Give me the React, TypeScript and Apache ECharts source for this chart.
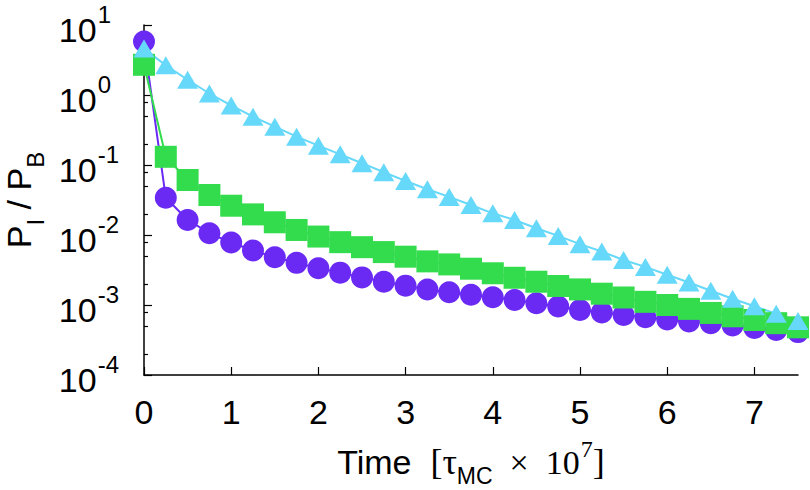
import React, { useEffect, useRef } from "react";
import * as echarts from "echarts";

// Time in units of tau_MC x 10^7
const times = [
  0, 0.25, 0.5, 0.75, 1, 1.25, 1.5, 1.75, 2, 2.25, 2.5, 2.75, 3, 3.25, 3.5, 3.75,
  4, 4.25, 4.5, 4.75, 5, 5.25, 5.5, 5.75, 6, 6.25, 6.5, 6.75, 7, 7.25, 7.5,
];

// purple circles
const ratioCircles = [
  5.8, 0.034, 0.0164, 0.0106, 0.0078, 0.006, 0.0048, 0.004, 0.00334, 0.0029, 0.00248,
  0.00215, 0.00189, 0.00166, 0.00152, 0.0014, 0.00129, 0.00118, 0.00106, 0.00095,
  0.00085, 0.00078, 0.00072, 0.00067, 0.00062, 0.00058, 0.00055, 0.00051, 0.00047,
  0.00044, 0.00041,
];

// green squares
const ratioSquares = [
  2.7, 0.131, 0.061, 0.0373, 0.0262, 0.0197, 0.0152, 0.0118, 0.0095, 0.0079, 0.0067,
  0.0057, 0.0049, 0.0042, 0.0038, 0.0033, 0.00284, 0.00245, 0.00215, 0.00187, 0.00167,
  0.00145, 0.00128, 0.00111, 0.001, 0.00088, 0.00077, 0.00069, 0.00061, 0.00055, 0.00048,
];

// cyan triangles
const ratioTriangles = [
  4.6, 2.65, 1.65, 1.05, 0.71, 0.49, 0.353, 0.254, 0.189, 0.142, 0.106, 0.079, 0.059,
  0.045, 0.035, 0.0268, 0.0204, 0.0164, 0.0125, 0.0097, 0.0074, 0.0058, 0.0044, 0.0035,
  0.0027, 0.0021, 0.0016, 0.00123, 0.00096, 0.00075, 0.00059,
];

const xTickValues = [0, 1, 2, 3, 4, 5, 6, 7];
const yMinorTickValues = [
  2e-4, 5e-4, 8e-4, 2e-3, 5e-3, 8e-3, 0.02, 0.05, 0.08, 0.2, 0.5, 0.8, 2, 5, 8,
];

const PURPLE = "#6a2af4";
const GREEN = "#33dc4c";
const CYAN = "#66d8fa";
const SANS = "'Liberation Sans', Arial, Helvetica, sans-serif";
const SERIF = "'Liberation Serif', 'Times New Roman', serif";

export default function App() {
  const ref = useRef<HTMLDivElement>(null);

  useEffect(() => {
    if (!ref.current) return;
    const chart = echarts.init(ref.current, undefined, { renderer: "svg" });
    const mk = (vals: number[]) => times.map((t, i) => [t, vals[i]]);
    const axisColor = "#000";

    const option: any = {
      animation: false,
      backgroundColor: "#fff",
      grid: {
        left: 144,
        right: 12,
        top: 25,
        bottom: 115,
        containLabel: false,
        outerBoundsMode: "none",
      },
      xAxis: {
        type: "value",
        min: 0,
        max: 7.5,
        interval: 1,
        name: "{t|Time  }{br|[τ}{sub|MC}{x|  ×  10}{sup|7}{br|]}",
        nameLocation: "middle",
        nameGap: 62,
        nameMoveOverlap: false,
        nameTextStyle: {
          color: "#000",
          rich: {
            t: { fontFamily: SANS, fontSize: 34, color: "#000" },
            br: { fontFamily: SERIF, fontSize: 36, color: "#000" },
            sub: { fontFamily: SANS, fontSize: 23, color: "#000", padding: [27, 0, 0, 0] },
            x: { fontFamily: SERIF, fontSize: 34, color: "#000" },
            sup: { fontFamily: SERIF, fontSize: 24, color: "#000", padding: [0, 0, 26, 1] },
          },
        },
        axisLine: { show: true, onZero: false, lineStyle: { color: axisColor, width: 1.5 } },
        axisTick: {
          show: true,
          inside: true,
          length: 8,
          customValues: xTickValues,
          lineStyle: { color: axisColor, width: 1.2 },
        },
        axisLabel: {
          customValues: xTickValues,
          fontFamily: SANS,
          fontSize: 34,
          color: "#000",
          margin: 20,
        },
        splitLine: { show: false },
      },
      yAxis: [
        {
          type: "log",
          logBase: 10,
          min: 1e-4,
          max: 10,
          position: "left",
          name: "{p|P}{s|I}{m| / }{p|P}{s|B}",
          nameLocation: "middle",
          nameRotate: 90,
          nameGap: 97,
          nameMoveOverlap: false,
          nameTextStyle: {
            color: "#000",
            rich: {
              p: { fontFamily: SANS, fontSize: 34, color: "#000", verticalAlign: "top" },
              m: { fontFamily: SANS, fontSize: 34, color: "#000", verticalAlign: "top" },
              s: {
                fontFamily: SANS,
                fontSize: 24,
                color: "#000",
                verticalAlign: "top",
                padding: [21, 0, 0, 0],
              },
            },
          },
          axisLine: { show: true, onZero: false, lineStyle: { color: axisColor, width: 1.5 } },
          axisTick: { show: true, inside: true, length: 8, lineStyle: { color: axisColor, width: 1.2 } },
          minorTick: { show: false },
          axisLabel: {
            margin: 19,
            formatter: (v: number) => {
              const e = Math.round(Math.log10(v));
              return e < 0 ? `{b|10}{sn|${e}}` : `{b|10}{sp|${e}}`;
            },
            rich: {
              b: { fontFamily: SANS, fontSize: 34, color: "#000", padding: [10, 0, 0, 0] },
              sn: {
                fontFamily: SANS,
                fontSize: 24,
                color: "#000",
                padding: [0, 6, 22, 1],
              },
              sp: {
                fontFamily: SANS,
                fontSize: 24,
                color: "#000",
                padding: [0, 14, 22, 1],
              },
            },
          },
          splitLine: { show: false },
        },
        {
          type: "value",
          min: -4,
          max: 1,
          position: "left",
          axisLine: { show: false },
          axisLabel: { show: false },
          splitLine: { show: false },
          axisTick: {
            show: true,
            inside: true,
            length: 4,
            customValues: yMinorTickValues.map((v) => Math.log10(v)),
            lineStyle: { color: axisColor, width: 1.2 },
          },
        },
      ],
      series: [
        {
          type: "line",
          data: mk(ratioCircles),
          yAxisIndex: 0,
          symbol: "circle",
          symbolSize: 22,
          showAllSymbol: true,
          clip: false,
          lineStyle: { color: PURPLE, width: 2 },
          itemStyle: { color: PURPLE },
          emphasis: { disabled: true },
        },
        {
          type: "line",
          data: mk(ratioSquares),
          yAxisIndex: 0,
          symbol: "rect",
          symbolSize: 22,
          showAllSymbol: true,
          clip: false,
          lineStyle: { color: GREEN, width: 2 },
          itemStyle: { color: GREEN },
          emphasis: { disabled: true },
        },
        {
          type: "line",
          data: mk(ratioTriangles),
          yAxisIndex: 0,
          symbol: "triangle",
          symbolSize: [21, 18],
          showAllSymbol: true,
          clip: false,
          lineStyle: { color: CYAN, width: 2 },
          itemStyle: { color: CYAN },
          emphasis: { disabled: true },
        },
      ],
    };

    chart.setOption(option);
    return () => chart.dispose();
  }, []);

  return (
    <div
      ref={ref}
      style={{ position: "fixed", left: 0, top: 0, width: 810, height: 490, background: "#fff" }}
    />
  );
}
